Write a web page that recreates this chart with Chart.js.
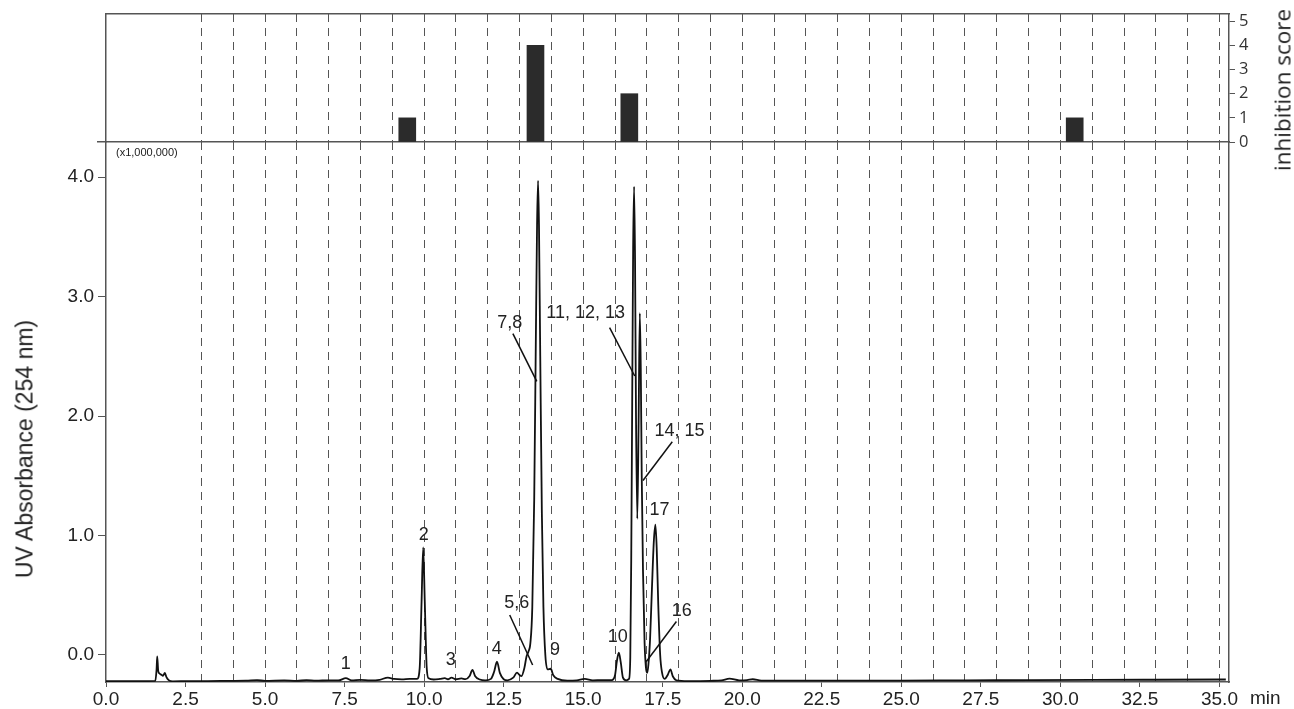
<!DOCTYPE html>
<html>
<head>
<meta charset="utf-8">
<script src="https://cdn.jsdelivr.net/npm/chart.js@4.4.1/dist/chart.umd.min.js"></script>
<style>
  html, body { margin: 0; padding: 0; background: #fff; }
  #wrap { position: relative; width: 1294px; height: 709px; overflow: hidden; font-family: "Liberation Sans", Arial, sans-serif; }
  canvas { position: absolute; left: 0; }
  #score-chart { top: 0; }
  #uv-chart { top: 142px; }
  .txt { position: absolute; white-space: nowrap; color: #222; }
  .vert { transform: translate(-50%, -50%) rotate(-90deg); }
</style>
</head>
<body>
<div id="wrap">
  <canvas id="score-chart" width="1294" height="150"></canvas>
  <canvas id="uv-chart" width="1294" height="567"></canvas>
  <div class="txt vert" style="left:25px;top:449px;font-size:23px;">UV Absorbance (254 nm)</div>
  <div class="txt vert" style="left:1282px;top:90px;font-size:22.5px;font-family:'Open Sans';">inhibition score</div>
  <div class="txt" style="left:116px;top:146px;font-size:11px;">(x1,000,000)</div>
  <div class="txt" style="left:1250px;top:687px;font-size:19px;">min</div>
</div>
<script>
// chromatogram trace (min, x1,000,000)
const retentionTimes = [0.0, 1.0, 1.55, 1.59, 1.61, 1.64, 1.68, 1.74, 1.79, 1.85, 1.9, 1.97, 2.1, 2.6, 3.2, 3.9, 4.4, 4.75, 5.0, 5.6, 6.0, 6.3, 6.6, 7.0, 7.3, 7.54, 7.72, 8.0, 8.3, 8.6, 8.86, 9.05, 9.3, 9.55, 9.78, 9.86, 9.92, 9.97, 10.02, 10.08, 10.14, 10.3, 10.5, 10.65, 10.75, 10.86, 11.0, 11.17, 11.3, 11.43, 11.52, 11.6, 11.75, 11.92, 12.1, 12.2, 12.29, 12.38, 12.5, 12.62, 12.8, 12.92, 13.0, 13.06, 13.15, 13.22, 13.28, 13.34, 13.4, 13.46, 13.51, 13.55, 13.58, 13.61, 13.65, 13.7, 13.75, 13.81, 13.88, 13.98, 14.06, 14.2, 14.5, 14.8, 15.05, 15.3, 15.6, 15.9, 16.0, 16.06, 16.12, 16.18, 16.25, 16.35, 16.44, 16.48, 16.51, 16.54, 16.57, 16.6, 16.63, 16.66, 16.7, 16.74, 16.78, 16.81, 16.84, 16.88, 16.93, 16.97, 17.01, 17.05, 17.1, 17.16, 17.22, 17.27, 17.31, 17.36, 17.42, 17.48, 17.56, 17.66, 17.74, 17.82, 17.93, 18.3, 19.0, 19.35, 19.6, 19.9, 20.15, 20.33, 20.6, 21.5, 23.0, 25.0, 27.0, 29.0, 31.0, 33.0, 35.2];
const absorbance = [-0.218, -0.218, -0.216, -0.12, -0.012, -0.13, -0.155, -0.165, -0.175, -0.15, -0.185, -0.21, -0.22, -0.218, -0.218, -0.216, -0.215, -0.21, -0.217, -0.213, -0.216, -0.211, -0.215, -0.212, -0.213, -0.194, -0.212, -0.208, -0.213, -0.208, -0.189, -0.2, -0.204, -0.2, -0.2, -0.11, 0.45, 0.9, 0.45, -0.1, -0.195, -0.205, -0.2, -0.194, -0.203, -0.19, -0.203, -0.196, -0.202, -0.175, -0.125, -0.175, -0.205, -0.212, -0.2, -0.14, -0.056, -0.15, -0.203, -0.212, -0.19, -0.148, -0.168, -0.176, -0.11, -0.01, 0.03, 0.1, 0.4, 1.3, 2.6, 3.6, 3.97, 3.6, 2.5, 1.2, 0.4, 0.0, -0.12, -0.115, -0.17, -0.2, -0.215, -0.212, -0.2, -0.212, -0.21, -0.21, -0.17, -0.05, 0.02, -0.06, -0.19, -0.212, -0.2, -0.02, 0.8, 2.1, 3.4, 3.92, 3.3, 2.0, 1.14, 1.9, 2.86, 2.4, 1.5, 0.7, 0.1, -0.1, -0.15, -0.08, 0.12, 0.55, 0.95, 1.09, 0.9, 0.42, 0.0, -0.15, -0.2, -0.165, -0.12, -0.18, -0.212, -0.218, -0.216, -0.212, -0.198, -0.212, -0.21, -0.203, -0.215, -0.215, -0.214, -0.214, -0.212, -0.211, -0.209, -0.207, -0.205];

// fractions with inhibition
const fractionTimes = [9.47, 13.5, 16.45, 30.45];
const inhibitionScores = [1, 4, 2, 1];

// axes
const timeTicks = [0, 2.5, 5, 7.5, 10, 12.5, 15, 17.5, 20, 22.5, 25, 27.5, 30, 32.5, 35];
const gridMinutes = [3, 4, 5, 6, 7, 8, 9, 10, 11, 12, 13, 14, 15, 16, 17, 18, 19, 20, 21, 22, 23, 24, 25, 26, 27, 28, 29, 30, 31, 32, 33, 34, 35];
const uvTicks = [0, 1, 2, 3, 4];
const scoreTicks = [0, 1, 2, 3, 4, 5];

// peak labels
const peakNames = ["1", "2", "3", "4", "5,6", "7,8", "9", "10", "11, 12, 13", "14, 15", "16", "17"];
const peakLabelTimes = [7.54, 9.99, 10.84, 12.28, 12.91, 12.69, 14.11, 16.09, 15.08, 18.03, 18.1, 17.4];
const peakLabelValues = [-0.075, 1.0, -0.04, 0.05, 0.435, 2.78, 0.04, 0.15, 2.86, 1.875, 0.37, 1.21];
const leaderFromTimes = [12.69, 12.79, 15.83, 17.8, 17.93];
const leaderFromValues = [0.335, 2.69, 2.74, 1.785, 0.28];
const leaderToTimes = [13.41, 13.54, 16.62, 16.88, 16.98];
const leaderToValues = [-0.084, 2.29, 2.335, 1.46, -0.056];

const axisTimes = [...new Set([...timeTicks, ...gridMinutes])].sort((a, b) => a - b);
const near = (list, v) => list.some((t) => Math.abs(t - v) < 1e-6);

Chart.defaults.font.family = '"Liberation Sans", Arial, sans-serif';
const lineGrey = "#555";

// keep tick labels from pushing the plot area around
const noPad = (a) => {
    a.paddingTop = 0;
    a.paddingBottom = 0;
    a.paddingLeft = 0;
    a.paddingRight = 0;
};

const peakLabelPlugin = {
    id: "peakLabels",
    afterDatasetsDraw(chart) {
        const { ctx } = chart;
        const x = chart.scales.x;
        const y = chart.scales.y;
        ctx.save();
        ctx.fillStyle = "#222";
        ctx.font = '18px "Liberation Sans", Arial, sans-serif';
        ctx.textAlign = "center";
        ctx.textBaseline = "middle";
        peakNames.forEach((name, i) => {
            ctx.fillText(name, x.getPixelForValue(peakLabelTimes[i]), y.getPixelForValue(peakLabelValues[i]));
        });
        ctx.strokeStyle = "#111";
        ctx.lineWidth = 1.5;
        leaderFromTimes.forEach((t, i) => {
            ctx.beginPath();
            ctx.moveTo(x.getPixelForValue(t), y.getPixelForValue(leaderFromValues[i]));
            ctx.lineTo(x.getPixelForValue(leaderToTimes[i]), y.getPixelForValue(leaderToValues[i]));
            ctx.stroke();
        });
        ctx.restore();
    },
};

const scoreCtx = document.getElementById("score-chart");

let scoreChart = new Chart(scoreCtx, {
    type: "bar",
    data: {
        datasets: [
            {
                label: "inhibition score",
                data: fractionTimes.map((t, i) => ({ x: t, y: inhibitionScores[i] })),
                backgroundColor: "#2b2b2b",
                barThickness: 17,
                xAxisID: "x",
                yAxisID: "y",
            },
        ],
    },
    options: {
        responsive: false,
        animation: false,
        layout: { padding: { top: 14, bottom: 8, left: 0, right: 0 } },
        plugins: { legend: { display: false }, tooltip: { enabled: false } },
        scales: {
            x: {
                type: "linear",
                min: 0,
                max: 35.3,
                offset: false,
                afterBuildTicks: (a) => { a.ticks = gridMinutes.map((v) => ({ value: v })); },
                afterFit: (a) => { a.height = 0; noPad(a); },
                ticks: { display: false },
                grid: { color: lineGrey, drawTicks: false, lineWidth: 1, offset: false },
                border: { color: lineGrey, width: 1.5, dash: [8, 6] },
            },
            xTop: {
                type: "linear",
                position: "top",
                min: 0,
                max: 35.3,
                offset: false,
                afterFit: (a) => { a.height = 0; noPad(a); },
                ticks: { display: false },
                grid: { display: false },
                border: { color: lineGrey, width: 1.5 },
            },
            yl: {
                position: "left",
                min: 0,
                max: 5.3,
                afterBuildTicks: (a) => { a.ticks = [{ value: 0 }]; },
                afterFit: (a) => { a.width = 106; noPad(a); },
                ticks: { callback: () => "" },
                grid: { drawOnChartArea: false, tickLength: 9, color: lineGrey, lineWidth: 1.5 },
                border: { color: lineGrey, width: 1.5 },
            },
            y: {
                position: "right",
                min: 0,
                max: 5.3,
                afterBuildTicks: (a) => { a.ticks = scoreTicks.map((v) => ({ value: v })); },
                afterFit: (a) => { a.width = 65; noPad(a); },
                ticks: { font: { family: "Open Sans", size: 16.5 }, color: "#333", padding: 4 },
                grid: { drawOnChartArea: false, tickLength: 6, color: lineGrey },
                border: { color: lineGrey, width: 1.5 },
            },
        },
    },
});

const uvCtx = document.getElementById("uv-chart");

let uvChart = new Chart(uvCtx, {
    type: "line",
    data: {
        datasets: [
            {
                label: "UV Absorbance",
                data: retentionTimes.map((t, i) => ({ x: t, y: absorbance[i] })),
                borderColor: "#111",
                borderWidth: 1.8,
                pointRadius: 0,
                cubicInterpolationMode: "monotone",
                fill: false,
            },
        ],
    },
    options: {
        responsive: false,
        animation: false,
        layout: { padding: 0 },
        plugins: { legend: { display: false }, tooltip: { enabled: false } },
        scales: {
            x: {
                type: "linear",
                min: 0,
                max: 35.3,
                afterBuildTicks: (a) => { a.ticks = axisTimes.map((v) => ({ value: v })); },
                afterFit: (a) => { a.height = 27; noPad(a); },
                ticks: {
                    autoSkip: false,
                    maxRotation: 0,
                    callback: (v) => (near(timeTicks, v) ? v.toFixed(1) : ""),
                    font: { size: 19 },
                    color: "#222",
                    padding: 1,
                },
                grid: {
                    color: (c) => (c.tick && near(gridMinutes, c.tick.value) ? lineGrey : "transparent"),
                    tickColor: (c) => (c.tick && near(timeTicks, c.tick.value) ? lineGrey : "transparent"),
                    tickLength: 5,
                    lineWidth: 1,
                },
                border: { color: lineGrey, width: 1.5, dash: [8, 6] },
            },
            y: {
                position: "left",
                min: -0.226,
                max: 4.293,
                afterBuildTicks: (a) => { a.ticks = uvTicks.map((v) => ({ value: v })); },
                afterFit: (a) => { a.width = 106; noPad(a); },
                ticks: { callback: (v) => v.toFixed(1), font: { size: 19 }, color: "#222", padding: 4 },
                grid: { drawOnChartArea: false, tickLength: 8, color: lineGrey },
                border: { color: lineGrey, width: 1.5 },
            },
            yr: {
                position: "right",
                min: 0,
                max: 1,
                afterFit: (a) => { a.width = 65; noPad(a); },
                ticks: { display: false },
                grid: { display: false },
                border: { color: lineGrey, width: 1.5 },
            },
        },
    },
    plugins: [peakLabelPlugin],
});
</script>
</body>
</html>
